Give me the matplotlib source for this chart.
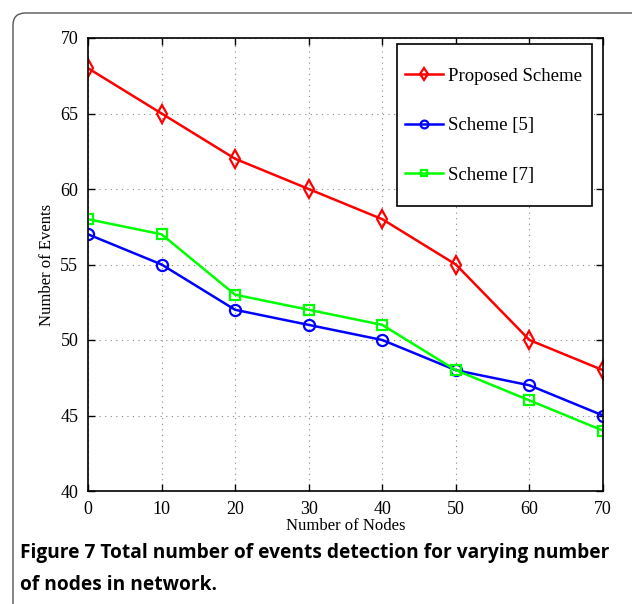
import matplotlib.pyplot as plt
from matplotlib.patches import FancyBboxPatch, Rectangle

# data
nodes = [0, 10, 20, 30, 40, 50, 60, 70]
proposed = [68, 65, 62, 60, 58, 55, 50, 48]
scheme5 = [57, 55, 52, 51, 50, 48, 47, 45]
scheme7 = [58, 57, 53, 52, 51, 48, 46, 44]

plt.rcParams['font.family'] = ['Liberation Serif', 'DejaVu Serif']

fig = plt.figure(figsize=(6.32, 6.04), dpi=100)

# rounded frame around the figure panel (runs off the right and bottom)
top = 1 - 13 / 604
frame = FancyBboxPatch((13 / 632, -0.2), 1.2, top + 0.2,
                       boxstyle="round,pad=0,rounding_size=0.02",
                       transform=fig.transFigure, fill=False,
                       edgecolor='#555555', linewidth=1.0)
fig.patches.append(frame)

ax = fig.add_axes([88 / 632, 1 - 491 / 604, (603 - 88) / 632, (491 - 38) / 604])

ax.plot(nodes, proposed, color='red', lw=1.8, marker='d', ms=9, mfc='none', mew=1.6,
        label='Proposed Scheme')
ax.plot(nodes, scheme5, color='blue', lw=1.8, marker='o', ms=8, mfc='none', mew=1.6,
        label='Scheme [5]')
ax.plot(nodes, scheme7, color='#00ff00', lw=1.8, marker='s', ms=7, mfc='none', mew=1.6,
        label='Scheme [7]')

ax.set_xlim(0, 70)
ax.set_ylim(40, 70)
ax.set_xticks(range(0, 71, 10))
ax.set_yticks(range(40, 71, 5))
ax.grid(True, linestyle=(0, (1, 4)), color='#888888', linewidth=0.8)
ax.tick_params(direction='in', top=True, right=True, labelsize=13, length=5, width=1, pad=7)
for s in ax.spines.values():
    s.set_linewidth(1.2)

ax.set_xlabel('Number of Nodes', fontsize=12, labelpad=0)
ax.set_ylabel('Number of Events', fontsize=12, labelpad=4)

# legend box drawn separately (MATLAB-style tall box), entries centred inside
box = Rectangle((0.600, 0.629), 0.379, 0.358, transform=ax.transAxes,
                facecolor='white', edgecolor='black', linewidth=1.2, zorder=4)
ax.add_patch(box)
leg = ax.legend(loc='center', fontsize=13.5, frameon=False, markerscale=0.7,
                labelspacing=1.73, borderpad=0, handlelength=2.0, handletextpad=0.3,
                borderaxespad=0, bbox_to_anchor=(0.788, 0.806))
leg.set_zorder(5)

fig.text(20 / 632, 1 - 553 / 604, 'Figure 7 Total number of events detection for varying number',
         fontsize=13.8, fontweight='bold', family='Open Sans', va='center')
fig.text(20 / 632, 1 - 585 / 604, 'of nodes in network.',
         fontsize=13.8, fontweight='bold', family='Open Sans', va='center')

fig.savefig('out.png', dpi=100)
